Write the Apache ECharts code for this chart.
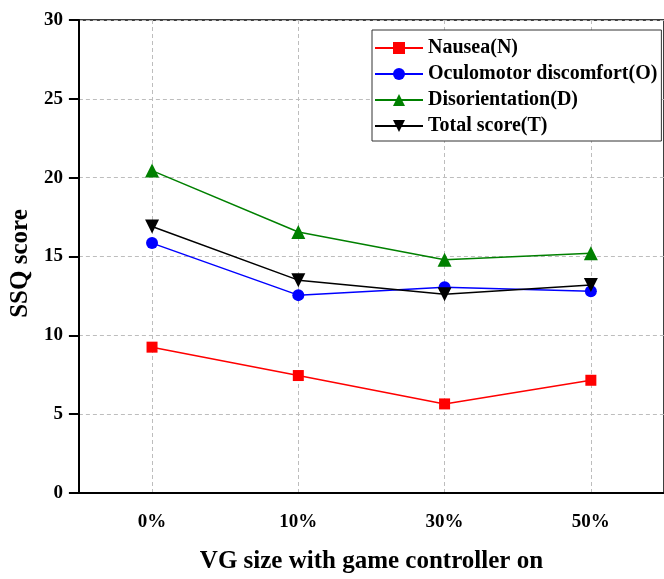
<!DOCTYPE html>
<html>
<head>
<meta charset="utf-8">
<style>
  html, body { margin: 0; padding: 0; background: #fff; overflow: hidden; }
  #chart { width: 664px; height: 579px; }
</style>
<script src="https://cdn.jsdelivr.net/npm/echarts@6/dist/echarts.min.js"></script>
</head>
<body>
<div id="chart"></div>
<script>
// 横轴类别
var categories = ['0%', '10%', '30%', '50%']
// 各分项得分
var nausea = [9.25, 7.45, 5.65, 7.15]
var oculomotor = [15.85, 12.55, 13.05, 12.8]
var disorientation = [20.45, 16.55, 14.8, 15.2]
var total = [16.9, 13.5, 12.6, 13.2]
var seriesNames = ['Nausea(N)', 'Oculomotor discomfort(O)', 'Disorientation(D)', 'Total score(T)']

var font = 'Liberation Serif'
var dash = { color: '#bdbdbd', type: [4, 3], width: 1 }

function makeLine (name, data, color, symbol, size, rotate) {
  return {
    name: name,
    type: 'line',
    data: data,
    symbol: symbol,
    symbolSize: size,
    symbolRotate: rotate || 0,
    lineStyle: { color: color, width: 1.5 },
    itemStyle: { color: color },
    z: 3
  }
}

var dom = echarts.init(document.getElementById('chart'))
var option = {
  animation: false,
  grid: {
    left: 78,
    top: 20,
    width: 596,
    height: 482,
    show: true,
    borderColor: '#000',
    borderWidth: 1.5
  },
  legend: {
    orient: 'vertical',
    left: 372,
    top: 30,
    padding: [8, 4, 5, 2],
    itemGap: 6,
    itemWidth: 48,
    itemHeight: 15,
    borderColor: '#333',
    borderWidth: 1,
    backgroundColor: '#fff',
    textStyle: { fontFamily: font, fontWeight: 'bold', fontSize: 20, color: '#000' },
    data: seriesNames
  },
  xAxis: {
    type: 'category',
    data: categories,
    boundaryGap: true,
    name: 'VG size with game controller on',
    nameLocation: 'middle',
    nameGap: 56,
    nameTextStyle: { fontFamily: font, fontWeight: 'bold', fontSize: 25, color: '#000' },
    axisLine: { lineStyle: { color: '#000', width: 2 } },
    axisTick: { alignWithLabel: true, length: 9, lineStyle: { color: '#000', width: 2 } },
    axisLabel: { margin: 20, fontFamily: font, fontWeight: 'bold', fontSize: 19, color: '#000' },
    splitLine: { show: true, alignWithLabel: true, lineStyle: dash }
  },
  yAxis: {
    type: 'value',
    min: 0,
    max: 30,
    interval: 5,
    name: 'SSQ score',
    nameLocation: 'middle',
    nameGap: 33,
    nameTextStyle: { fontFamily: font, fontWeight: 'bold', fontSize: 25, color: '#000', padding: [0, 14, 0, 0] },
    axisLine: { show: true, lineStyle: { color: '#000', width: 2 } },
    axisTick: { show: true, length: 10, lineStyle: { color: '#000', width: 2 } },
    axisLabel: { margin: 16, fontFamily: font, fontWeight: 'bold', fontSize: 19, color: '#000' },
    splitLine: { show: true, lineStyle: dash }
  },
  series: [
    makeLine(seriesNames[0], nausea, '#ff0000', 'rect', 11),
    makeLine(seriesNames[1], oculomotor, '#0000ff', 'circle', 12),
    makeLine(seriesNames[2], disorientation, '#008000', 'triangle', 14),
    makeLine(seriesNames[3], total, '#000000', 'triangle', 14, 180)
  ]
}
dom.setOption(option)
</script>
</body>
</html>
